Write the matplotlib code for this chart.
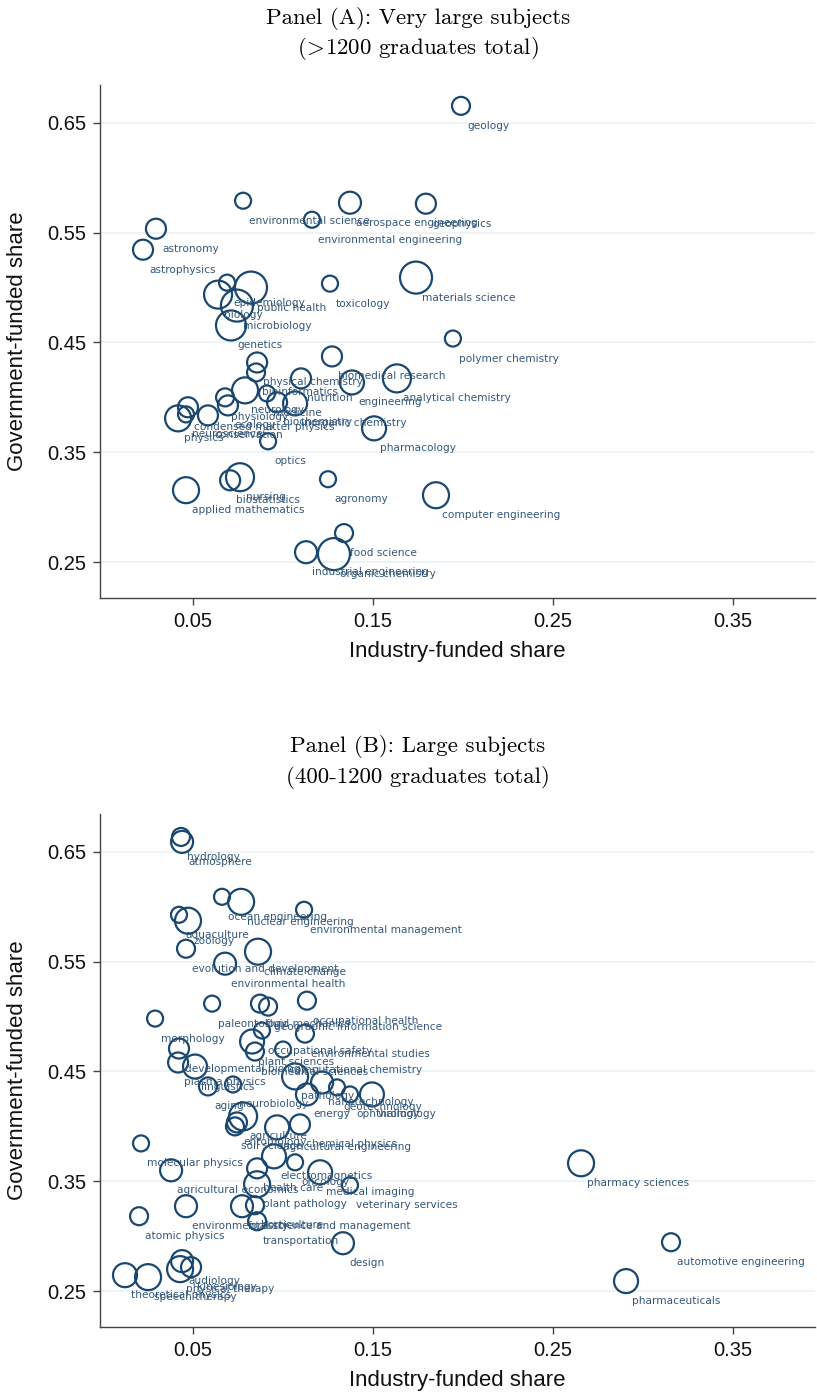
import matplotlib.pyplot as plt
import numpy as np

plt.rcParams['mathtext.fontset'] = 'cm'

# Panel A: very large subjects (>1200 graduates)
labels_a = ["geology", "environmental science", "aerospace engineering", "geophysics",
            "environmental engineering", "astronomy", "astrophysics", "epidemiology",
            "public health", "biology", "toxicology", "materials science", "microbiology",
            "genetics", "polymer chemistry", "biomedical research", "physical chemistry",
            "bioinformatics", "analytical chemistry", "nutrition", "engineering", "neurology",
            "medicine", "biochemistry", "inorganic chemistry", "physiology", "ecology",
            "condensed matter physics", "neuroscience", "physics", "conservation", "optics",
            "pharmacology", "nursing", "biostatistics", "applied mathematics", "agronomy",
            "computer engineering", "food science", "industrial engineering", "organic chemistry"]
ind_a = [0.1989, 0.0778, 0.1372, 0.1794, 0.1161, 0.0294, 0.0222, 0.0689, 0.0822, 0.0639,
         0.1261, 0.1739, 0.0744, 0.0711, 0.1944, 0.1272, 0.0856, 0.0850, 0.1633, 0.1100,
         0.1383, 0.0789, 0.0911, 0.0967, 0.1067, 0.0678, 0.0694, 0.0472, 0.0461, 0.0417,
         0.0583, 0.0917, 0.1506, 0.0761, 0.0706, 0.0461, 0.1250, 0.1850, 0.1339, 0.1128,
         0.1283]
gov_a = [0.6655, 0.5791, 0.5773, 0.5764, 0.5618, 0.5536, 0.5345, 0.5045, 0.5000, 0.4936,
         0.5036, 0.5091, 0.4836, 0.4655, 0.4536, 0.4373, 0.4318, 0.4227, 0.4173, 0.4173,
         0.4136, 0.4064, 0.4036, 0.3955, 0.3945, 0.4000, 0.3927, 0.3910, 0.3845, 0.3809,
         0.3836, 0.3600, 0.3718, 0.3273, 0.3245, 0.3155, 0.3255, 0.3109, 0.2764, 0.2590,
         0.2573]
grads_a = [1640, 1300, 2455, 2030, 1300, 2030, 2030, 1300, 5200, 3980,
           1300, 5200, 5200, 4570, 1300, 2030, 2030, 1640, 3980, 2030,
           2920, 3430, 1300, 2030, 2920, 1640, 2030, 2030, 1300, 3430,
           2030, 1300, 2920, 3980, 2030, 3430, 1300, 3430, 1640, 2455,
           5200]

# Panel B: large subjects (400-1200 graduates)
labels_b = ["hydrology", "atmosphere", "ocean engineering", "nuclear engineering",
            "environmental management", "aquaculture", "zoology", "evolution and development",
            "climate change", "environmental health", "paleontology", "fluid mechanics",
            "geographic information science", "occupational health", "morphology",
            "occupational safety", "environmental studies", "plant sciences",
            "developmental biology", "biomedical sciences", "computational chemistry",
            "plasma physics", "linguistics", "aging", "neurobiology", "pathology",
            "nanotechnology", "geotechnology", "energy", "ophthalmology", "virology",
            "agriculture", "entomology", "soil science", "agricultural engineering",
            "chemical physics", "molecular physics", "agricultural economics",
            "electromagnetics", "oncology", "health care", "medical imaging",
            "veterinary services", "plant pathology", "environmental science and management",
            "forestry", "horticulture", "transportation", "design", "atomic physics",
            "audiology", "physical therapy", "kinesiology", "theoretical physics",
            "speech therapy", "pharmacy sciences", "automotive engineering", "pharmaceuticals"]
ind_b = [0.0433, 0.0439, 0.0661, 0.0767, 0.1117, 0.0422, 0.0472, 0.0461, 0.0861, 0.0678,
         0.0606, 0.0872, 0.0917, 0.1133, 0.0289, 0.0883, 0.1122, 0.0828, 0.0422, 0.0844,
         0.1000, 0.0417, 0.0511, 0.0583, 0.0722, 0.1067, 0.1217, 0.1300, 0.1133, 0.1372,
         0.1494, 0.0778, 0.0744, 0.0733, 0.0967, 0.1094, 0.0211, 0.0378, 0.0950, 0.1067,
         0.0856, 0.1206, 0.1372, 0.0856, 0.0461, 0.0772, 0.0844, 0.0856, 0.1333, 0.0200,
         0.0439, 0.0428, 0.0489, 0.0122, 0.0250, 0.2656, 0.3156, 0.2906]
gov_b = [0.6636, 0.6591, 0.6091, 0.6045, 0.5973, 0.5927, 0.5873, 0.5618, 0.5591, 0.5482,
         0.5118, 0.5118, 0.5091, 0.5145, 0.4982, 0.4873, 0.4845, 0.4773, 0.4709, 0.4682,
         0.4700, 0.4582, 0.4545, 0.4364, 0.4382, 0.4455, 0.4400, 0.4355, 0.4291, 0.4291,
         0.4291, 0.4091, 0.4036, 0.4000, 0.3991, 0.4018, 0.3845, 0.3600, 0.3727, 0.3673,
         0.3618, 0.3582, 0.3464, 0.3473, 0.3273, 0.3273, 0.3282, 0.3136, 0.2936, 0.3182,
         0.2773, 0.2700, 0.2718, 0.2645, 0.2627, 0.3664, 0.2945, 0.2591]
grads_b = [506, 756, 400, 1056, 400, 400, 1056, 506, 1056, 756,
           400, 506, 506, 506, 400, 400, 506, 900, 625, 506,
           400, 625, 900, 506, 400, 1056, 756, 400, 756, 400,
           900, 1225, 625, 506, 900, 625, 400, 756, 900, 400,
           625, 900, 400, 1056, 756, 756, 506, 506, 756, 506,
           756, 1056, 625, 900, 1056, 1056, 506, 900]

yticks = [0.25, 0.35, 0.45, 0.55, 0.65]
xticks = [0.05, 0.15, 0.25, 0.35]

navy = '#1a476f'
W, H = 817, 1395
fig = plt.figure(figsize=(W / 100, H / 100), dpi=100)


def panel(rect, labels, xs, ys, grads, k):
    ax = fig.add_axes(rect)
    r = k * np.sqrt(np.array(grads))          # radius in pixels
    s = (2 * r * 0.72) ** 2
    ax.scatter(xs, ys, s=s, facecolors='none', edgecolors=navy, linewidths=1.6, zorder=3)
    for lab, xv, yv in zip(labels, xs, ys):
        ax.annotate(lab, (xv, yv), xytext=(4.3, -14.4), textcoords='offset points',
                    ha='left', va='center', fontsize=7.6, color='#34577a',
                    family='DejaVu Sans', zorder=4)
    ax.set_xlim(-0.0017, 0.3956)
    ax.set_ylim(0.2173, 0.6845)
    ax.set_yticks(yticks)
    ax.set_yticklabels([f"{v:.2f}" for v in yticks])
    ax.set_xticks(xticks)
    ax.set_xticklabels([f"{v:.2f}" for v in xticks])
    ax.grid(axis='y', color='#eaf2f3', linewidth=1.2, zorder=0)
    for side in ['top', 'right']:
        ax.spines[side].set_visible(False)
    for side in ['left', 'bottom']:
        ax.spines[side].set_color('#444444')
        ax.spines[side].set_linewidth(1.0)
    ax.tick_params(length=5, width=1, color='#444444', labelsize=14.5,
                   labelcolor='#111111', pad=5)
    for t in ax.get_xticklabels() + ax.get_yticklabels():
        t.set_family('Liberation Sans')
    ax.set_xlabel('Industry-funded share', fontsize=16, family='Liberation Sans',
                  labelpad=7, color='#111111')
    ax.set_ylabel('Government-funded share', fontsize=16, family='Liberation Sans',
                  labelpad=14, color='#111111')
    return ax


axA = panel([100 / W, 1 - 598 / H, 715 / W, 513 / H], labels_a, ind_a, gov_a, grads_a, 0.222)
axB = panel([100 / W, 1 - 1327 / H, 715 / W, 513 / H], labels_b, ind_b, gov_b, grads_b, 0.4)

tx = 418 / W
fig.text(tx, 1 - 18 / H, 'Panel (A): Very large subjects', family='cmr10',
         fontsize=16.5, ha='center', va='center')
fig.text(tx, 1 - 49 / H, r'($\!>\!$1200 graduates total)', family='cmr10',
         fontsize=16.5, ha='center', va='center')
fig.text(tx, 1 - 746 / H, 'Panel (B): Large subjects', family='cmr10',
         fontsize=16.5, ha='center', va='center')
fig.text(tx, 1 - 778 / H, '(400-1200 graduates total)', family='cmr10',
         fontsize=16.5, ha='center', va='center')

fig.savefig('out.png', dpi=100)
